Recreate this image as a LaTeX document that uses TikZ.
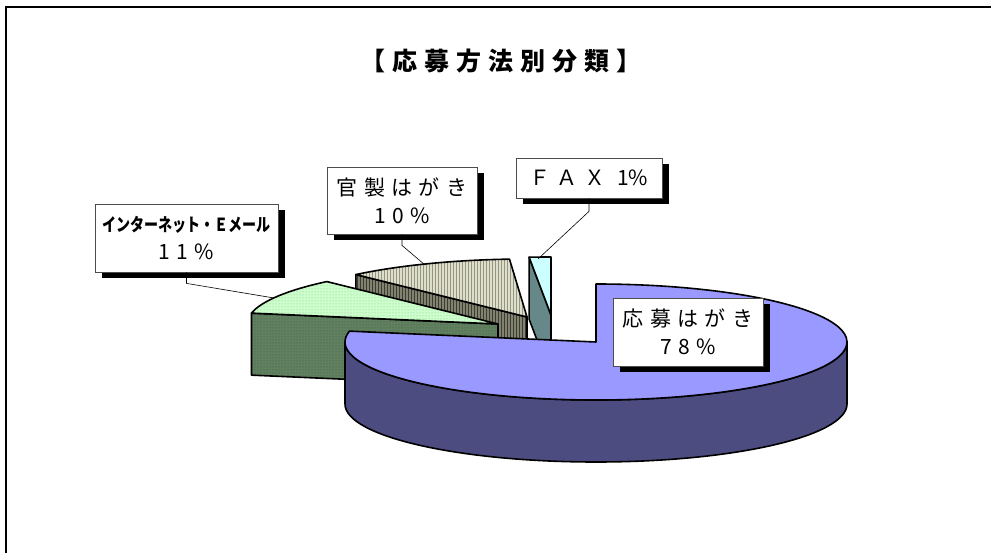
\documentclass[tikz,border=0pt]{standalone}
\usepackage{fontspec}
\usetikzlibrary{patterns}
\pgfdeclarelayer{shade}
\pgfdeclarelayer{front}
\pgfsetlayers{main,shade,front}
\newfontfamily\jp[LetterSpace=30]{Noto Sans CJK JP}
\newfontfamily\jpplain{Noto Sans CJK JP}
\newfontfamily\jpnarrow[FakeStretch=0.78]{Noto Sans CJK JP}
\newfontfamily\jptitle[LetterSpace=28]{Noto Sans CJK JP}
\newcommand\lblfont{\jp\fontsize{21pt}{28pt}\selectfont}

\definecolor{mtop}{RGB}{153,153,255}
\definecolor{mside}{RGB}{76,76,128}
\definecolor{itop}{RGB}{204,255,204}
\definecolor{idot}{RGB}{140,190,140}
\definecolor{iside}{RGB}{96,128,96}
\definecolor{isidedot}{RGB}{60,90,60}
\definecolor{ktop}{RGB}{222,222,205}
\definecolor{kline}{RGB}{150,150,128}
\definecolor{kside}{RGB}{130,130,112}
\definecolor{ksideline}{RGB}{60,60,48}
\definecolor{ftop}{RGB}{204,255,255}
\definecolor{fside}{RGB}{102,136,136}

\tikzset{
    rim/.style={x radius=251, y radius=58},
    slice/.style={draw=black, line width=1.6pt, line join=round},
    maintop/.style={slice, fill=mtop},
    mainside/.style={slice, fill=mside},
    inettop/.style={slice, preaction={fill=itop}, pattern=dots, pattern color=idot},
    inetside/.style={slice, preaction={fill=iside}, pattern=dots, pattern color=isidedot},
    kantop/.style={slice, preaction={fill=ktop}, pattern=vertical lines, pattern color=kline},
    kanside/.style={slice, preaction={fill=kside}, pattern=vertical lines, pattern color=ksideline},
    faxtop/.style={slice, fill=ftop},
    faxside/.style={slice, fill=fside},
    lbl/.style={draw=black!70, fill=white, line width=0.8pt, align=center,
        inner sep=0pt, font=\lblfont},
    lblshade/.style={fill=black},
    leader/.style={draw=black, line width=0.6pt},
    frame/.style={draw=black, line width=2pt}
}

\begin{document}
\begin{tikzpicture}[x=1pt, y=1pt]
  \useasboundingbox (0,0) rectangle (991,-553);
  \draw[frame] (6,-553) -- (6,-7) -- (991,-7);

  \node (title) at (501,-61)
    {\jptitle\bfseries\fontsize{25pt}{28pt}\selectfont 【応募方法別分類】};

  % pie centres
  \coordinate (mc) at (596,-342);
  \coordinate (ic) at (498,-324);
  \coordinate (icb) at (498,-386);
  \coordinate (kc) at (527,-317);
  \coordinate (kcb) at (527,-379);
  \coordinate (fc) at (551,-315);
  \coordinate (fcb) at (551,-377);

  % 官製はがき
  \path[kanside] (kc) -- ++(133:251 and 58) -- ++(0,-62) -- (kcb) -- cycle;
  \path[kantop] (kc) -- ++(133:251 and 58)
    arc[rim, start angle=133, end angle=94] -- cycle;

  % FAX
  \path[faxside] (fc) -- ++(95:251 and 58) -- ++(0,-62) -- (fcb) -- cycle;
  \path[faxtop] (fc) -- ++(95:251 and 58)
    arc[rim, start angle=95, end angle=90] -- cycle;

  % インターネット
  \path[inetside] (ic) -- ++(169.2:251 and 58) -- ++(0,-62) -- (icb) -- cycle;
  \path[inettop] (ic) -- ++(169.2:251 and 58)
    arc[rim, start angle=169.2, end angle=133] -- cycle;

  % 応募はがき
  \path[mainside] (mc) ++(180:251 and 58) arc[rim, start angle=180, end angle=360]
    -- ++(0,-62) arc[rim, start angle=360, end angle=180] -- cycle;
  \path[maintop] (mc) -- ++(169.2:251 and 58)
    arc[rim, start angle=169.2, end angle=450] -- cycle;

  % labels
  \begin{pgfonlayer}{front}
  \node[lbl, minimum width=183pt, minimum height=68pt] (inet) at (186.5,-238)
    {{\jpnarrow\bfseries\fontsize{18pt}{27pt}\selectfont インターネット・Ｅメール}\\11\%};
  \node[lbl, minimum width=150pt, minimum height=67pt] (kan) at (402,-200.5)
    {官製はがき\\10\%};
  \node[lbl, minimum width=146pt, minimum height=40pt] (fax) at (589,-178)
    {ＦＡＸ\hspace{12pt}{\jpplain 1\%}};
  \node[lbl, minimum width=150pt, minimum height=68pt] (oubo) at (688,-332)
    {応募はがき\\78\%};

  \coordinate (inetpt) at (274,-298);
  \coordinate (kanpt) at (425,-265);
  \coordinate (faxpt) at (538,-259);
  \draw[leader] (inet.south) -- ++(0,-11) -- (inetpt);
  \draw[leader] (kan.south) -- ++(0,-11) -- (kanpt);
  \draw[leader] (fax.south) -- ++(0,-13) -- (faxpt);
  \end{pgfonlayer}

  \begin{pgfonlayer}{shade}
  \fill[lblshade] ([shift={(7,-6)}]inet.south west) rectangle ([shift={(7,-6)}]inet.north east);
  \fill[lblshade] ([shift={(7,-6)}]kan.south west) rectangle ([shift={(7,-6)}]kan.north east);
  \fill[lblshade] ([shift={(7,-6)}]fax.south west) rectangle ([shift={(7,-6)}]fax.north east);
  \fill[lblshade] ([shift={(7,-6)}]oubo.south west) rectangle ([shift={(7,-6)}]oubo.north east);
  \end{pgfonlayer}
\end{tikzpicture}
\end{document}
